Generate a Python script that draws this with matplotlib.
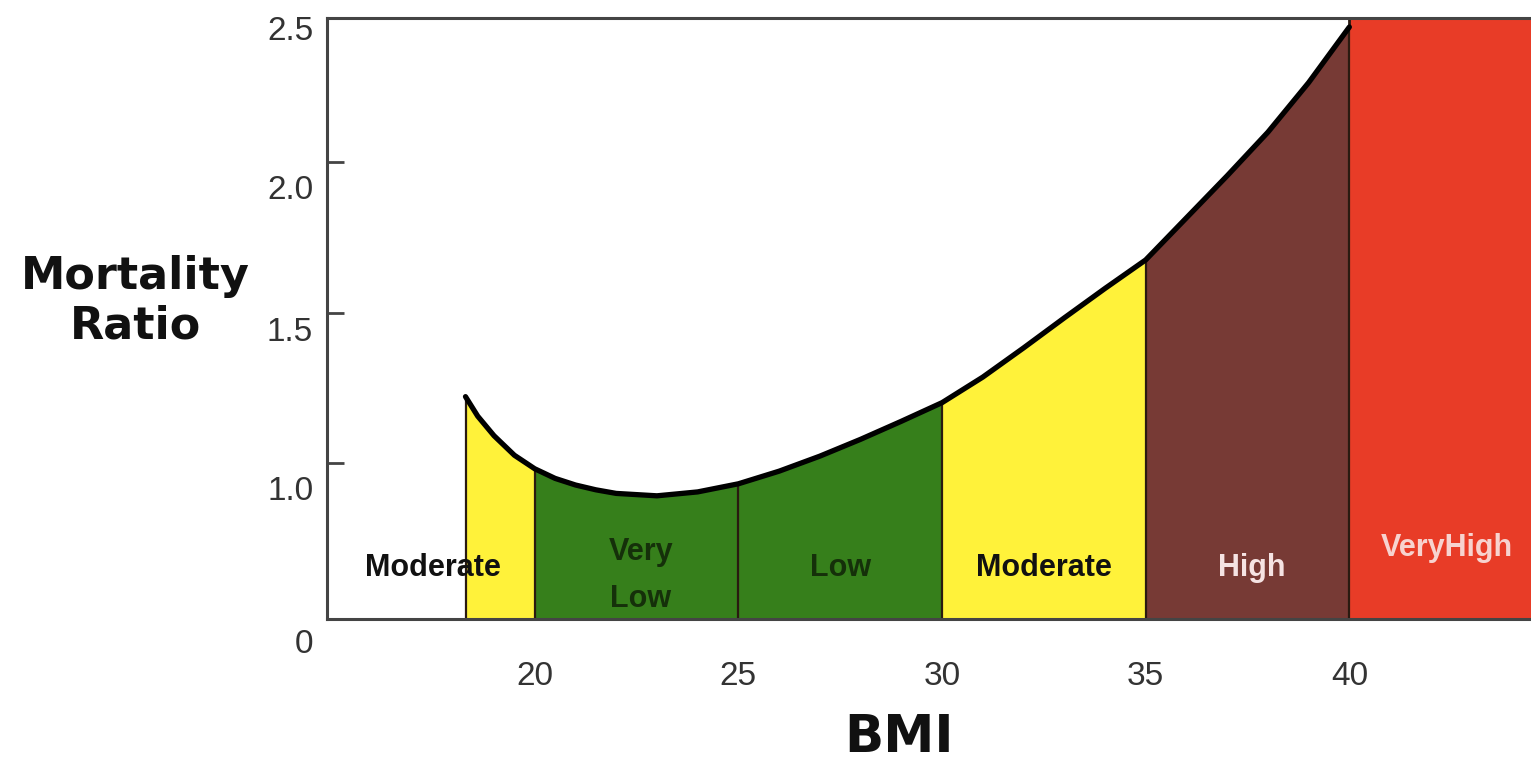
import numpy as np
import matplotlib.pyplot as plt
from matplotlib.transforms import ScaledTranslation

# mortality ratio curve
bmi = [18.3, 18.6, 19, 19.5, 20, 20.5, 21, 21.5, 22, 23, 24, 25, 26, 27, 28, 29, 30,
       31, 32, 33, 34, 35, 36, 37, 38, 39, 40]
ratio = [1.22, 1.155, 1.09, 1.025, 0.98, 0.948, 0.926, 0.91, 0.898, 0.89, 0.903, 0.93,
         0.972, 1.022, 1.078, 1.138, 1.20,
         1.285, 1.382, 1.482, 1.58, 1.675, 1.815, 1.955, 2.10, 2.265, 2.45]

bands = [(18.3, 20), (20, 25), (25, 30), (30, 35), (35, 40)]
band_colors = ['#fff23a', '#367f1b', '#367f1b', '#fff23a', '#773a35']
veryhigh = (40, 44.5)

labels = ['Moderate', 'Very\nLow', 'Low', 'Moderate', 'High', 'VeryHigh']
label_x = [17.5, 22.6, 27.5, 32.5, 37.6, 42.4]
label_y = [0.65, 0.625, 0.65, 0.65, 0.65, 0.715]
label_colors = ['#111111', '#15300a', '#15300a', '#111111', '#f5e3e3', '#f7d3cf']

yticks = [0.48, 1.0, 1.5, 2.0, 2.48]
yticklabels = ['0', '1.0', '1.5', '2.0', '2.5']
xticks = [20, 25, 30, 35, 40]

ymin, ymax = 0.48, 2.48

fig = plt.figure(figsize=(15.31, 7.60), dpi=100)
ax = fig.add_axes([0.2136, 0.1855, 0.7864, 0.7908])

x = np.array(bmi)
y = np.array(ratio)
for (a, b), c in zip(bands, band_colors):
    m = (x >= a) & (x <= b)
    ax.fill_between(x[m], ymin, y[m], color=c, lw=0)
ax.axvspan(veryhigh[0], veryhigh[1], color='#e83c27', lw=0)

# thin borders between bands
edges = [b[0] for b in bands] + [40]
ax.vlines(edges, ymin, np.interp(edges, x, y), color='#2a1a10', lw=1.6)
ax.vlines(40, 2.45, ymax, color='#2a1a10', lw=2)

ax.plot(x, y, color='black', lw=3.8, solid_capstyle='round', solid_joinstyle='round')

for t, lx, ly, c in zip(labels, label_x, label_y, label_colors):
    ax.text(lx, ly, t, ha='center', va='center', color=c, fontsize=22,
            fontweight='bold', family='Liberation Sans', linespacing=1.75)

ax.set_xlim(14.9, 44.46)
ax.set_ylim(ymin, ymax)

ax.set_xticks(xticks)
ax.set_xticklabels([str(v) for v in xticks])
ax.tick_params(axis='x', length=0, pad=30, labelsize=24, labelcolor='#333333')
ax.set_yticks(yticks)
ax.set_yticklabels(yticklabels)
ax.tick_params(axis='y', direction='in', length=12, width=2, color='#444444',
               pad=10, labelsize=24, labelcolor='#333333')
for lab in ax.get_xticklabels() + ax.get_yticklabels():
    lab.set_family('Liberation Sans')
shifts = [-16, -18, -12, -18, -7]
for lab, s in zip(ax.get_yticklabels(), shifts):
    lab.set_transform(lab.get_transform() + ScaledTranslation(0, s / 72, fig.dpi_scale_trans))

for side in ['left', 'bottom', 'top']:
    ax.spines[side].set_color('#444444')
    ax.spines[side].set_linewidth(2.2)
ax.spines['right'].set_visible(False)

fig.text(135 / 1531, 1 - 301 / 760, 'Mortality\nRatio', ha='center', va='center',
         fontsize=32, fontweight='bold', linespacing=1.2, color='#111111')
fig.text(899 / 1531, 1 - 738 / 760, 'BMI', ha='center', va='center',
         fontsize=37, fontweight='bold', color='#111111')

fig.savefig('out.png', dpi=100)
